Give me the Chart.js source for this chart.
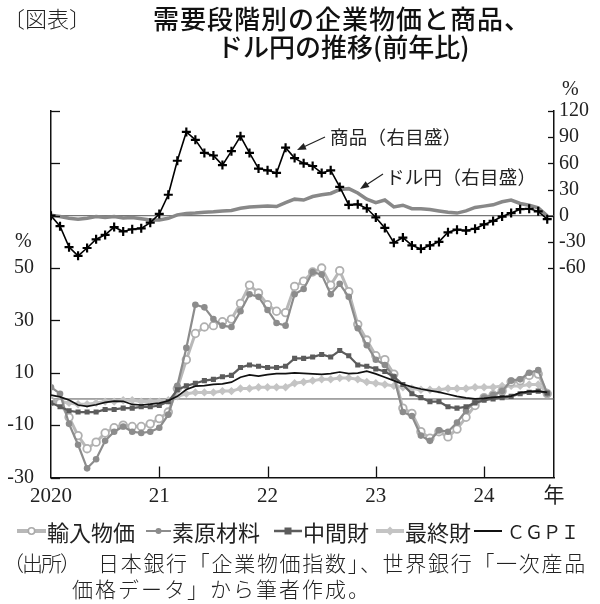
<!DOCTYPE html>
<html lang="ja">
<head>
<meta charset="utf-8">
<script src="https://cdn.jsdelivr.net/npm/chart.js@4.4.1/dist/chart.umd.min.js"></script>
<style>
  html, body { margin: 0; padding: 0; background: #fff; }
  #wrap { position: relative; width: 600px; height: 604px; overflow: hidden; font-family: "Noto Sans CJK JP", sans-serif; color: #222; }
  #c { position: absolute; left: 0; top: 0; }
  .t { position: absolute; white-space: nowrap; }
  .lg { position: absolute; top: 517px; height: 28px; display: flex; align-items: center; font-size: 22px; line-height: 28px; }
  .lg svg { margin-right: 1px; }
</style>
</head>
<body>
<div id="wrap">
  <canvas id="c" width="600" height="604"></canvas>

  <div class="t" style="left:3px;top:2px;font-size:22px;line-height:30px;font-weight:300;">〔図表〕</div>
  <div class="t" style="left:153px;top:2px;font-size:26px;line-height:32px;font-weight:500;letter-spacing:1px;color:#111;">需要段階別の企業物価と商品、</div>
  <div class="t" style="left:217px;top:30px;font-size:26px;line-height:32px;font-weight:500;color:#111;">ドル円の推移(前年比)</div>

  <div class="t" style="left:562px;top:76px;font:20px 'Liberation Serif', serif;line-height:24px;">%</div>
  <div class="t" style="left:15px;top:228px;font:20px 'Liberation Serif', serif;line-height:24px;">%</div>

  <div class="t" style="left:330px;top:124px;font-size:18.5px;line-height:24px;letter-spacing:0.3px;">商品（右目盛）</div>
  <div class="t" style="left:386px;top:164px;font-size:18.5px;line-height:24px;letter-spacing:0.3px;">ドル円（右目盛）</div>

  <div class="lg" style="left:17px;"><svg width="29" height="12"><line x1="0" y1="6" x2="29" y2="6" stroke="#b8b8b8" stroke-width="4"/><circle cx="14.5" cy="6" r="3.2" fill="#fff" stroke="#aaa" stroke-width="1.6"/></svg><span>輸入物価</span></div>
  <div class="lg" style="left:146px;"><svg width="25" height="12"><line x1="0" y1="6" x2="25" y2="6" stroke="#8c8c8c" stroke-width="2"/><circle cx="12.5" cy="6" r="3" fill="#8c8c8c"/></svg><span>素原材料</span></div>
  <div class="lg" style="left:274px;"><svg width="28" height="12"><line x1="0" y1="6" x2="28" y2="6" stroke="#5c5c5c" stroke-width="2.5"/><rect x="10.5" y="2.5" width="7" height="7" fill="#5c5c5c"/></svg><span>中間財</span></div>
  <div class="lg" style="left:376px;"><svg width="28" height="12"><line x1="0" y1="6" x2="28" y2="6" stroke="#c4c4c4" stroke-width="4"/><polygon points="14,1.5 18.5,6 14,10.5 9.5,6" fill="#c4c4c4"/></svg><span>最終財</span></div>
  <div class="lg" style="left:474px;"><svg width="29" height="12"><line x1="0" y1="6" x2="28" y2="6" stroke="#111" stroke-width="2"/></svg><span style="font-size:18px;margin-left:3px;">ＣＧＰＩ</span></div>

  <div class="t" style="left:3px;top:548px;font-size:21px;line-height:28px;font-weight:300;letter-spacing:-2px;">（出所）</div>
  <div class="t" style="left:98px;top:548px;font-size:21px;line-height:28px;font-weight:300;letter-spacing:1.7px;">日本銀行「企業物価指数」、世界銀行「一次産品</div>
  <div class="t" style="left:72px;top:574px;font-size:21px;line-height:28px;font-weight:300;letter-spacing:2px;">価格データ」から筆者作成。</div>
</div>

<script>
// 2020年1月 = 0 ... 2024年8月 = 55 (月次, 前年比 %)
const yearTicks = [0, 12, 24, 36, 48, 55.75];
const yearLabels = ["2020", "21", "22", "23", "24", "年"];
const leftTicks = [-30, -10, 10, 30, 50, 70, 90, 110];
const rightTicks = [-60, -30, 0, 30, 60, 90, 120];

const imports = [-1, -1.5, -7, -14, -19, -16.5, -13, -11, -10, -10.5, -10.5, -9.5,
  -7.5, -5, 4, 15, 25, 27.5, 28, 29.5, 30.5, 36.5, 43.5, 40.5,
  36, 33.5, 33, 43, 45, 48.5, 50, 43.5, 49, 41, 28.5, 22.5,
  16.5, 15, 9.5, -3.5, -5.5, -12.5, -15, -12.5, -14.5, -11.5, -7, -2.5,
  0.5, 1.5, 3, 6.5, 7, 9, 9.5, 2];
const rawMaterials = [4.5, 2, -9.5, -17.5, -26.5, -23, -16, -12.5, -10.5, -12.5, -13, -12.5,
  -11, -6, 5, 19.5, 36, 35, 30.5, 28, 27.5, 33.5, 40, 39,
  34, 29, 28, 40, 42, 48.5, 47.5, 40, 44, 39, 27, 20.5,
  15, 13, 8.5, -5, -6.5, -14, -16, -12, -12.5, -9, -4.5, -1,
  0.5, 1.5, 3, 7, 7.5, 10, 11, 2];
const intermediate = [-1.5, -3, -4.5, -5, -5, -5, -4, -4, -3.5, -3.5, -3, -3,
  -2.5, -1, 3.5, 5, 6, 7, 7.5, 8.5, 9, 12, 13, 12.5,
  12, 12, 12.5, 15.5, 15.5, 16, 17, 16, 18.5, 16.5, 13, 12.5,
  11.5, 10.5, 8.5, 5.5, 2, 0.5, -1, -1, -3, -3.5, -3, -1.5,
  -0.5, 0, 0.5, 1, 2, 2.5, 3, 2.3];
const finalGoods = [-0.5, -1, -1.5, -2, -2, -1.5, -1, -1, -0.5, -0.5, -1, -1,
  -1, -0.5, 1, 2, 2.5, 2.5, 2.5, 3, 3, 4, 4, 4.5,
  4.5, 4.5, 4.5, 6, 6.5, 7, 7.5, 7.5, 8, 8, 7.5, 6.5,
  6, 5.5, 5, 4.5, 4, 3.5, 3.5, 3.5, 4, 4, 4, 4.5,
  4.5, 4.5, 5, 5, 5, 5.5, 5.5, 2.5];
const cgpi = [1.5, 0.8, -0.4, -2.3, -2.8, -2.2, -1.3, -0.8, -0.9, -2.1, -2.3, -2.0,
  -1.6, -0.7, 1.0, 3.6, 4.9, 5.1, 5.6, 5.8, 6.4, 8.3, 9.2, 8.7,
  9.3, 9.7, 9.7, 10.0, 9.8, 9.6, 9.4, 9.7, 10.3, 9.7, 9.9, 10.6,
  9.6, 8.3, 7.0, 5.6, 4.6, 3.8, 3.2, 2.6, 1.8, 1.0, 0.4, 0.0,
  0.2, 0.6, 0.9, 1.1, 2.4, 2.9, 3.0, 2.5];
// 右目盛
const commodities = [0, -12, -36, -46, -37, -27, -22, -13, -18, -15.5, -14.5, -8,
  2, 24, 63, 96, 87, 72, 69, 58, 74, 91, 72, 54,
  52, 49, 78, 66, 60, 57, 49, 52, 33, 12.5, 13, 8.5,
  -2, -14, -31, -25, -34, -38, -34, -30, -19, -16, -17, -15,
  -10, -6, -1, 3, 7.5, 8, 5, -4];
const usdjpy = [0.5, -1, -3, -4, -3, -1, -2, -1, -2.5, -2, -3.5, -5,
  -5, -3, 1, 2.5, 3, 4, 4.5, 5.5, 6, 8.5, 10, 10.5,
  11, 10.5, 15, 19, 18, 22, 24, 25.5, 30, 31, 26, 19,
  15, 18, 10, 12, 8, 8, 7, 5.5, 4, 3, 5.5, 9.5,
  11, 12.5, 16, 18, 14, 12, 9, 0];

const pts = (arr) => arr.map((v, i) => ({ x: i, y: v }));
const xMax = yearTicks[yearTicks.length - 1];

function arrow(ctx, x1, y1, x2, y2) {
    const ang = Math.atan2(y2 - y1, x2 - x1);
    ctx.beginPath(); ctx.moveTo(x1, y1); ctx.lineTo(x2 - 6 * Math.cos(ang), y2 - 6 * Math.sin(ang)); ctx.stroke();
    ctx.beginPath();
    ctx.moveTo(x2, y2);
    ctx.lineTo(x2 - 9 * Math.cos(ang) + 3.5 * Math.sin(ang), y2 - 9 * Math.sin(ang) - 3.5 * Math.cos(ang));
    ctx.lineTo(x2 - 9 * Math.cos(ang) - 3.5 * Math.sin(ang), y2 - 9 * Math.sin(ang) + 3.5 * Math.cos(ang));
    ctx.closePath(); ctx.fill();
}

const decor = {
    id: "decor",
    beforeDatasetsDraw(chart) {
        const { ctx, chartArea: a, scales } = chart;
        ctx.save();
        ctx.strokeStyle = "#555"; ctx.lineWidth = 1;
        [scales.y.getPixelForValue(0), scales.y2.getPixelForValue(0)].forEach((py) => {
            ctx.beginPath(); ctx.moveTo(a.left, py); ctx.lineTo(a.right, py); ctx.stroke();
        });
        ctx.restore();
    },
    afterDraw(chart) {
        const { ctx, chartArea: a, scales } = chart;
        ctx.save();
        ctx.strokeStyle = "#111"; ctx.fillStyle = "#111"; ctx.lineWidth = 1.3;
        scales.y.ticks.forEach((t) => {
            const py = Math.round(scales.y.getPixelForValue(t.value)) + 0.5;
            ctx.beginPath(); ctx.moveTo(a.left, py); ctx.lineTo(a.left + 9, py); ctx.stroke();
        });
        scales.y2.ticks.forEach((t) => {
            const py = Math.round(scales.y2.getPixelForValue(t.value)) + 0.5;
            ctx.beginPath(); ctx.moveTo(a.right - 6, py); ctx.lineTo(a.right, py); ctx.stroke();
        });
        scales.x.ticks.filter((t) => t.value > 0 && t.value < xMax).forEach((t) => {
            const px = Math.round(scales.x.getPixelForValue(t.value)) + 0.5;
            ctx.beginPath(); ctx.moveTo(px, a.bottom); ctx.lineTo(px, a.bottom - 11); ctx.stroke();
        });
        ctx.lineWidth = 1.2; ctx.strokeStyle = "#222"; ctx.fillStyle = "#222";
        arrow(ctx, 325, 137, 297, 150);
        arrow(ctx, 383, 174, 360, 189);
        ctx.restore();
    },
};

const tickFont = { family: "'Liberation Serif', 'Noto Sans CJK JP', serif", size: 20 };

new Chart(document.getElementById("c"), {
    type: "line",
    data: {
        datasets: [
            { label: "CGPI", data: pts(cgpi), yAxisID: "y", borderColor: "#111", borderWidth: 1.7, pointRadius: 0 },
            { label: "商品", data: pts(commodities), yAxisID: "y2", borderColor: "#000", borderWidth: 1.6,
              pointStyle: "cross", pointRadius: 4.5, pointBorderWidth: 2.2, pointBorderColor: "#000" },
            { label: "中間財", data: pts(intermediate), yAxisID: "y", borderColor: "#5c5c5c", borderWidth: 2.2,
              pointStyle: "rect", pointRadius: 3.6, pointBackgroundColor: "#5c5c5c", pointBorderWidth: 0 },
            { label: "素原材料", data: pts(rawMaterials), yAxisID: "y", borderColor: "#8c8c8c", borderWidth: 2.2,
              pointStyle: "circle", pointRadius: 3.3, pointBackgroundColor: "#8c8c8c", pointBorderWidth: 0 },
            { label: "輸入物価", data: pts(imports), yAxisID: "y", borderColor: "#b8b8b8", borderWidth: 3,
              pointStyle: "circle", pointRadius: 3.8, pointBackgroundColor: "#fff", pointBorderColor: "#b0b0b0", pointBorderWidth: 1.8 },
            { label: "最終財", data: pts(finalGoods), yAxisID: "y", borderColor: "#c4c4c4", borderWidth: 3,
              pointStyle: "rectRot", pointRadius: 4.2, pointBackgroundColor: "#c4c4c4", pointBorderWidth: 0 },
            { label: "ドル円", data: pts(usdjpy), yAxisID: "y2", borderColor: "#888", borderWidth: 3.5, pointRadius: 0 },
        ],
    },
    options: {
        responsive: false,
        animation: false,
        events: [],
        layout: { padding: { top: 111, bottom: 96.5, left: 0, right: 0 } },
        elements: { line: { tension: 0 } },
        plugins: { legend: { display: false }, tooltip: { enabled: false } },
        scales: {
            x: {
                type: "linear", min: 0, max: xMax,
                afterBuildTicks: (s) => { s.ticks = yearTicks.map((v) => ({ value: v })); },
                afterFit: (s) => { s.height = 30; },
                grid: { display: false, drawTicks: false },
                border: { display: true, color: "#111", width: 1.5 },
                ticks: { autoSkip: false, maxRotation: 0, padding: 6, color: "#222", font: { ...tickFont, size: 21 },
                         callback: (v) => yearLabels[yearTicks.indexOf(v)] },
            },
            y: {
                type: "linear", position: "left", min: -30, max: 110,
                afterBuildTicks: (s) => { s.ticks = leftTicks.map((v) => ({ value: v })); },
                afterFit: (s) => { s.width = 51; },
                grid: { display: false, drawTicks: false },
                border: { display: true, color: "#111", width: 1.5 },
                ticks: { padding: 17, color: "#222", font: tickFont, callback: (v) => (v <= 50 ? String(v) : "") },
            },
            y2: {
                type: "linear", position: "right", min: -300, max: 120,
                afterBuildTicks: (s) => { s.ticks = rightTicks.map((v) => ({ value: v })); },
                afterFit: (s) => { s.width = 46; },
                grid: { display: false, drawTicks: false },
                border: { display: true, color: "#111", width: 1.5 },
                ticks: { padding: 5, color: "#222", font: tickFont, callback: (v) => String(v) },
            },
        },
    },
    plugins: [decor],
});
</script>
</body>
</html>
